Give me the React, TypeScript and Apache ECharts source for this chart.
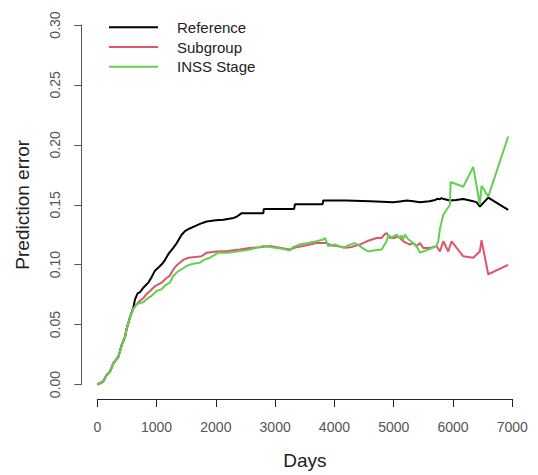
import React, { useEffect, useRef } from "react";
import * as echarts from "echarts";

// Reference (black)
const refDays = [0, 101, 158, 214, 270, 354, 411, 467, 495, 551, 607, 636, 680, 720, 780, 860, 920, 973, 1040, 1100, 1142, 1200, 1282, 1340, 1423, 1479, 1550, 1640, 1732, 1845, 2000, 2125, 2300, 2350, 2435, 2800, 2810, 3320, 3334, 3800, 3812, 4200, 4600, 4800, 4992, 5105, 5218, 5330, 5442, 5600, 5700, 5740, 5780, 5800, 5830, 5948, 6050, 6172, 6341, 6400, 6453, 6594, 6931];
const refErr = [0, 0.0025, 0.008, 0.0107, 0.0176, 0.023, 0.0328, 0.0397, 0.0465, 0.056, 0.064, 0.071, 0.076, 0.077, 0.081, 0.085, 0.09, 0.095, 0.098, 0.101, 0.104, 0.109, 0.114, 0.118, 0.125, 0.128, 0.13, 0.132, 0.134, 0.136, 0.137, 0.1375, 0.139, 0.14, 0.143, 0.143, 0.1465, 0.1465, 0.1505, 0.1505, 0.1535, 0.1535, 0.153, 0.1525, 0.152, 0.1528, 0.1535, 0.153, 0.152, 0.153, 0.154, 0.155, 0.1545, 0.1555, 0.155, 0.1535, 0.154, 0.1548, 0.153, 0.152, 0.1485, 0.156, 0.1457];

// Subgroup (red)
const subDays = [0, 101, 158, 214, 270, 354, 411, 467, 495, 551, 607, 664, 720, 776, 840, 889, 973, 1086, 1150, 1226, 1282, 1350, 1451, 1535, 1650, 1760, 1845, 2013, 2200, 2406, 2575, 2744, 2912, 3100, 3250, 3350, 3474, 3600, 3699, 3868, 3950, 4037, 4206, 4300, 4430, 4543, 4712, 4796, 4852, 4880, 4936, 5020, 5049, 5105, 5161, 5273, 5330, 5386, 5442, 5498, 5611, 5723, 5780, 5836, 5920, 5976, 6172, 6341, 6453, 6481, 6594, 6931];
const subErr = [0, 0.0025, 0.008, 0.0107, 0.0176, 0.023, 0.0328, 0.0397, 0.0465, 0.056, 0.063, 0.067, 0.07, 0.072, 0.076, 0.078, 0.082, 0.085, 0.088, 0.091, 0.096, 0.1, 0.104, 0.1058, 0.1063, 0.107, 0.11, 0.111, 0.1115, 0.1127, 0.114, 0.1146, 0.1155, 0.114, 0.1127, 0.1145, 0.1155, 0.117, 0.118, 0.118, 0.116, 0.1155, 0.114, 0.115, 0.1168, 0.1195, 0.1223, 0.1223, 0.1256, 0.1264, 0.1223, 0.1223, 0.1237, 0.1223, 0.1195, 0.1168, 0.118, 0.1155, 0.118, 0.114, 0.114, 0.1155, 0.111, 0.1195, 0.111, 0.1195, 0.107, 0.1058, 0.111, 0.1205, 0.092, 0.0998];

// INSS Stage (green)
const inssDays = [0, 101, 158, 214, 270, 354, 411, 467, 495, 551, 607, 664, 720, 776, 850, 917, 1000, 1086, 1150, 1226, 1282, 1350, 1450, 1507, 1600, 1732, 1800, 1900, 2041, 2200, 2406, 2575, 2800, 3025, 3150, 3250, 3300, 3418, 3550, 3699, 3812, 3840, 3896, 4008, 4149, 4250, 4346, 4430, 4500, 4571, 4655, 4796, 4880, 4908, 4960, 5049, 5100, 5133, 5160, 5189, 5250, 5330, 5400, 5442, 5550, 5650, 5723, 5751, 5780, 5836, 5948, 5960, 6172, 6341, 6453, 6481, 6594, 6931];
const inssErr = [0, 0.0025, 0.008, 0.0107, 0.0176, 0.023, 0.0328, 0.0397, 0.0465, 0.056, 0.063, 0.067, 0.068, 0.0686, 0.072, 0.074, 0.078, 0.0796, 0.083, 0.085, 0.0905, 0.094, 0.097, 0.099, 0.1005, 0.1017, 0.104, 0.1058, 0.11, 0.11, 0.1113, 0.1127, 0.1155, 0.114, 0.113, 0.1118, 0.1145, 0.1168, 0.118, 0.1195, 0.121, 0.1223, 0.1155, 0.1168, 0.114, 0.1165, 0.118, 0.1155, 0.113, 0.111, 0.1118, 0.1127, 0.1195, 0.125, 0.1225, 0.125, 0.122, 0.1245, 0.121, 0.125, 0.121, 0.118, 0.114, 0.11, 0.112, 0.114, 0.1155, 0.1195, 0.13, 0.1416, 0.15, 0.169, 0.165, 0.1816, 0.15, 0.1658, 0.1568, 0.207];

const seriesNames = ["Reference", "Subgroup", "INSS Stage"];
const seriesColors = ["#000000", "#DF536B", "#61D04F"];

const zip = (xs: number[], ys: number[]) => xs.map((x, i) => [x, ys[i]]);

const FONT = "Liberation Sans";

export default function App() {
  const ref = useRef<HTMLDivElement>(null);
  useEffect(() => {
    if (!ref.current) return;
    const chart = echarts.init(ref.current, null, { renderer: "svg" });
    const dataSets = [zip(refDays, refErr), zip(subDays, subErr), zip(inssDays, inssErr)];
    chart.setOption({
      animation: false,
      backgroundColor: "#ffffff",
      grid: { left: 97.3, right: 25.7, top: 25, bottom: 87, containLabel: false },
      legend: {
        orient: "vertical",
        left: 104,
        top: 12.5,
        icon: "rect",
        itemWidth: 49,
        itemHeight: 2,
        itemGap: 0,
        data: seriesNames,
        textStyle: {
          fontFamily: FONT,
          fontSize: 15,
          color: "#222",
          lineHeight: 19.7,
          padding: [0, 0, 0, 14],
        },
      },
      xAxis: {
        type: "value",
        min: 0,
        max: 7000,
        interval: 1000,
        offset: 14.5,
        name: "Days",
        nameLocation: "middle",
        nameGap: 52,
        nameTextStyle: { fontFamily: FONT, fontSize: 19, color: "#222" },
        axisLine: { show: true, onZero: false, lineStyle: { color: "#222", width: 1 } },
        axisTick: { show: true, inside: false, length: 8, lineStyle: { color: "#222" } },
        axisLabel: {
          fontFamily: FONT,
          fontSize: 14,
          color: "#555",
          margin: 21,
          formatter: (v: number) => String(v),
        },
        splitLine: { show: false },
      },
      yAxis: {
        type: "value",
        min: 0,
        max: 0.3,
        interval: 0.05,
        offset: 16,
        name: "Prediction error",
        nameLocation: "middle",
        nameRotate: 90,
        nameGap: 49,
        nameTextStyle: { fontFamily: FONT, fontSize: 19, color: "#222" },
        axisLine: { show: true, onZero: false, lineStyle: { color: "#555", width: 1 } },
        axisTick: { show: true, inside: false, length: 7, lineStyle: { color: "#555" } },
        axisLabel: {
          fontFamily: FONT,
          fontSize: 14,
          color: "#555",
          rotate: 90,
          margin: 19,
          formatter: (v: number) => v.toFixed(2),
        },
        splitLine: { show: false },
      },
      series: dataSets.map((d, i) => ({
        name: seriesNames[i],
        type: "line",
        data: d,
        showSymbol: false,
        symbol: "none",
        color: seriesColors[i],
        lineStyle: { color: seriesColors[i], width: 2 },
        emphasis: { disabled: true },
      })),
    });
    return () => chart.dispose();
  }, []);
  return (
    <div
      ref={ref}
      style={{ position: "fixed", left: 0, top: 0, width: 538, height: 475, background: "#fff" }}
    />
  );
}
